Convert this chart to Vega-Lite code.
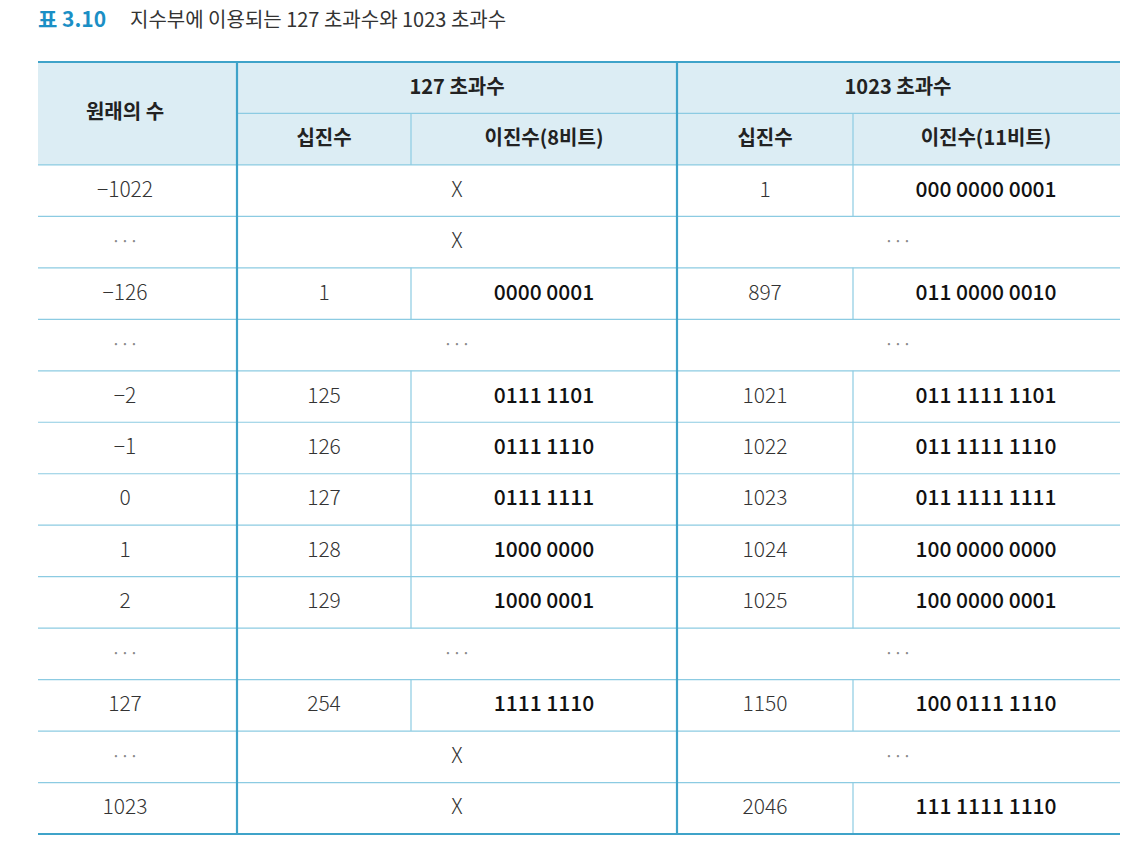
{
  "$schema": "https://vega.github.io/schema/vega-lite/v6.json",
  "width": 1082,
  "height": 772,
  "autosize": "none",
  "padding": {"left": 38, "top": 62, "right": 14, "bottom": 14},
  "background": "white",
  "config": {"view": {"stroke": null}},
  "datasets": {
    "fills": [{"x0": 0, "x1": 1082, "y0": 0, "y1": 2}],
    "lines": [
      {"x0": 0, "x1": 1082, "y0": 0, "y1": 0, "kind": "border"},
      {"x0": 199, "x1": 1082, "y0": 1, "y1": 1, "kind": "minor"},
      {"x0": 0, "x1": 1082, "y0": 2, "y1": 2, "kind": "minor"},
      {"x0": 0, "x1": 1082, "y0": 3, "y1": 3, "kind": "minor"},
      {"x0": 0, "x1": 1082, "y0": 4, "y1": 4, "kind": "minor"},
      {"x0": 0, "x1": 1082, "y0": 5, "y1": 5, "kind": "minor"},
      {"x0": 0, "x1": 1082, "y0": 6, "y1": 6, "kind": "minor"},
      {"x0": 0, "x1": 1082, "y0": 7, "y1": 7, "kind": "minor"},
      {"x0": 0, "x1": 1082, "y0": 8, "y1": 8, "kind": "minor"},
      {"x0": 0, "x1": 1082, "y0": 9, "y1": 9, "kind": "minor"},
      {"x0": 0, "x1": 1082, "y0": 10, "y1": 10, "kind": "minor"},
      {"x0": 0, "x1": 1082, "y0": 11, "y1": 11, "kind": "minor"},
      {"x0": 0, "x1": 1082, "y0": 12, "y1": 12, "kind": "minor"},
      {"x0": 0, "x1": 1082, "y0": 13, "y1": 13, "kind": "minor"},
      {"x0": 0, "x1": 1082, "y0": 14, "y1": 14, "kind": "minor"},
      {"x0": 0, "x1": 1082, "y0": 15, "y1": 15, "kind": "border"},
      {"x0": 199, "x1": 199, "y0": 0, "y1": 15, "kind": "major"},
      {"x0": 639, "x1": 639, "y0": 0, "y1": 15, "kind": "major"},
      {"x0": 373, "x1": 373, "y0": 1, "y1": 2, "kind": "minor"},
      {"x0": 373, "x1": 373, "y0": 4, "y1": 5, "kind": "minor"},
      {"x0": 373, "x1": 373, "y0": 6, "y1": 11, "kind": "minor"},
      {"x0": 373, "x1": 373, "y0": 12, "y1": 13, "kind": "minor"},
      {"x0": 815, "x1": 815, "y0": 1, "y1": 3, "kind": "minor"},
      {"x0": 815, "x1": 815, "y0": 4, "y1": 5, "kind": "minor"},
      {"x0": 815, "x1": 815, "y0": 6, "y1": 11, "kind": "minor"},
      {"x0": 815, "x1": 815, "y0": 12, "y1": 13, "kind": "minor"},
      {"x0": 815, "x1": 815, "y0": 14, "y1": 15, "kind": "minor"}
    ],
    "header": [
      {"x": 87, "y": 1, "t": "원래의 수"},
      {"x": 419, "y": 0.5, "t": "127 초과수"},
      {"x": 860, "y": 0.5, "t": "1023 초과수"},
      {"x": 286, "y": 1.5, "t": "십진수"},
      {"x": 506, "y": 1.5, "t": "이진수(8비트)"},
      {"x": 727, "y": 1.5, "t": "십진수"},
      {"x": 948, "y": 1.5, "t": "이진수(11비트)"}
    ],
    "cells": [
      {"x": 87, "y": 2.5, "t": "−1022", "kind": "num"},
      {"x": 419, "y": 2.5, "t": "X", "kind": "num"},
      {"x": 727, "y": 2.5, "t": "1", "kind": "num"},
      {"x": 948, "y": 2.5, "t": "000  0000  0001", "kind": "bin"},
      {"x": 87, "y": 3.5, "t": "···", "kind": "dots"},
      {"x": 419, "y": 3.5, "t": "X", "kind": "num"},
      {"x": 860, "y": 3.5, "t": "···", "kind": "dots"},
      {"x": 87, "y": 4.5, "t": "−126", "kind": "num"},
      {"x": 286, "y": 4.5, "t": "1", "kind": "num"},
      {"x": 506, "y": 4.5, "t": "0000  0001", "kind": "bin"},
      {"x": 727, "y": 4.5, "t": "897", "kind": "num"},
      {"x": 948, "y": 4.5, "t": "011  0000  0010", "kind": "bin"},
      {"x": 87, "y": 5.5, "t": "···", "kind": "dots"},
      {"x": 419, "y": 5.5, "t": "···", "kind": "dots"},
      {"x": 860, "y": 5.5, "t": "···", "kind": "dots"},
      {"x": 87, "y": 6.5, "t": "−2", "kind": "num"},
      {"x": 286, "y": 6.5, "t": "125", "kind": "num"},
      {"x": 506, "y": 6.5, "t": "0111  1101", "kind": "bin"},
      {"x": 727, "y": 6.5, "t": "1021", "kind": "num"},
      {"x": 948, "y": 6.5, "t": "011  1111  1101", "kind": "bin"},
      {"x": 87, "y": 7.5, "t": "−1", "kind": "num"},
      {"x": 286, "y": 7.5, "t": "126", "kind": "num"},
      {"x": 506, "y": 7.5, "t": "0111  1110", "kind": "bin"},
      {"x": 727, "y": 7.5, "t": "1022", "kind": "num"},
      {"x": 948, "y": 7.5, "t": "011  1111  1110", "kind": "bin"},
      {"x": 87, "y": 8.5, "t": "0", "kind": "num"},
      {"x": 286, "y": 8.5, "t": "127", "kind": "num"},
      {"x": 506, "y": 8.5, "t": "0111  1111", "kind": "bin"},
      {"x": 727, "y": 8.5, "t": "1023", "kind": "num"},
      {"x": 948, "y": 8.5, "t": "011  1111  1111", "kind": "bin"},
      {"x": 87, "y": 9.5, "t": "1", "kind": "num"},
      {"x": 286, "y": 9.5, "t": "128", "kind": "num"},
      {"x": 506, "y": 9.5, "t": "1000  0000", "kind": "bin"},
      {"x": 727, "y": 9.5, "t": "1024", "kind": "num"},
      {"x": 948, "y": 9.5, "t": "100  0000  0000", "kind": "bin"},
      {"x": 87, "y": 10.5, "t": "2", "kind": "num"},
      {"x": 286, "y": 10.5, "t": "129", "kind": "num"},
      {"x": 506, "y": 10.5, "t": "1000  0001", "kind": "bin"},
      {"x": 727, "y": 10.5, "t": "1025", "kind": "num"},
      {"x": 948, "y": 10.5, "t": "100  0000  0001", "kind": "bin"},
      {"x": 87, "y": 11.5, "t": "···", "kind": "dots"},
      {"x": 419, "y": 11.5, "t": "···", "kind": "dots"},
      {"x": 860, "y": 11.5, "t": "···", "kind": "dots"},
      {"x": 87, "y": 12.5, "t": "127", "kind": "num"},
      {"x": 286, "y": 12.5, "t": "254", "kind": "num"},
      {"x": 506, "y": 12.5, "t": "1111  1110", "kind": "bin"},
      {"x": 727, "y": 12.5, "t": "1150", "kind": "num"},
      {"x": 948, "y": 12.5, "t": "100  0111  1110", "kind": "bin"},
      {"x": 87, "y": 13.5, "t": "···", "kind": "dots"},
      {"x": 419, "y": 13.5, "t": "X", "kind": "num"},
      {"x": 860, "y": 13.5, "t": "···", "kind": "dots"},
      {"x": 87, "y": 14.5, "t": "1023", "kind": "num"},
      {"x": 419, "y": 14.5, "t": "X", "kind": "num"},
      {"x": 727, "y": 14.5, "t": "2046", "kind": "num"},
      {"x": 948, "y": 14.5, "t": "111  1111  1110", "kind": "bin"}
    ],
    "title": [
      {"x": 0, "y": -0.8, "t": "표 3.10", "kind": "label"},
      {"x": 92, "y": -0.8, "t": "지수부에 이용되는 127 초과수와 1023 초과수", "kind": "text"}
    ]
  },
  "encoding": {
    "x": {"field": "x", "type": "quantitative", "scale": {"domain": [0, 1082]}, "axis": null},
    "y": {"field": "y", "type": "quantitative", "scale": {"domain": [0, 15], "reverse": true}, "axis": null}
  },
  "layer": [
    {
      "data": {"name": "fills"},
      "mark": {"type": "rect", "color": "#dcedf4"},
      "encoding": {
        "x": {"field": "x0", "type": "quantitative"},
        "x2": {"field": "x1"},
        "y": {"field": "y0", "type": "quantitative"},
        "y2": {"field": "y1"}
      }
    },
    {
      "data": {"name": "lines"},
      "transform": [{"filter": "datum.kind === 'minor'"}],
      "mark": {"type": "rule", "color": "#8ccbe2", "strokeWidth": 1.2},
      "encoding": {
        "x": {"field": "x0", "type": "quantitative"},
        "x2": {"field": "x1"},
        "y": {"field": "y0", "type": "quantitative"},
        "y2": {"field": "y1"}
      }
    },
    {
      "data": {"name": "lines"},
      "transform": [{"filter": "datum.kind !== 'minor'"}],
      "mark": {"type": "rule", "color": "#3fa3c9", "strokeWidth": 2.2},
      "encoding": {
        "x": {"field": "x0", "type": "quantitative"},
        "x2": {"field": "x1"},
        "y": {"field": "y0", "type": "quantitative"},
        "y2": {"field": "y1"}
      }
    },
    {
      "data": {"name": "header"},
      "mark": {"type": "text", "font": "Noto Sans CJK KR", "fontSize": 20, "fontWeight": "bold", "color": "#222222", "align": "center", "baseline": "middle"},
      "encoding": {"text": {"field": "t"}}
    },
    {
      "data": {"name": "cells"},
      "transform": [{"filter": "datum.kind === 'num'"}],
      "mark": {"type": "text", "font": "Noto Sans CJK KR", "fontSize": 21, "fontWeight": 300, "color": "#333333", "align": "center", "baseline": "middle"},
      "encoding": {"text": {"field": "t"}}
    },
    {
      "data": {"name": "cells"},
      "transform": [{"filter": "datum.kind === 'dots'"}],
      "mark": {"type": "text", "font": "Noto Sans CJK KR", "fontSize": 16, "color": "#888888", "align": "center", "baseline": "middle"},
      "encoding": {"text": {"field": "t"}}
    },
    {
      "data": {"name": "cells"},
      "transform": [{"filter": "datum.kind === 'bin'"}],
      "mark": {"type": "text", "font": "Noto Sans CJK KR", "fontSize": 21, "fontWeight": 500, "color": "#111111", "align": "center", "baseline": "middle"},
      "encoding": {"text": {"field": "t"}}
    },
    {
      "data": {"name": "title"},
      "transform": [{"filter": "datum.kind === 'label'"}],
      "mark": {"type": "text", "font": "Noto Sans CJK KR", "fontSize": 21, "fontWeight": "bold", "color": "#1b8fc5", "align": "left", "baseline": "middle"},
      "encoding": {"text": {"field": "t"}}
    },
    {
      "data": {"name": "title"},
      "transform": [{"filter": "datum.kind === 'text'"}],
      "mark": {"type": "text", "font": "Noto Sans CJK KR", "fontSize": 20, "color": "#333333", "align": "left", "baseline": "middle"},
      "encoding": {"text": {"field": "t"}}
    }
  ]
}
